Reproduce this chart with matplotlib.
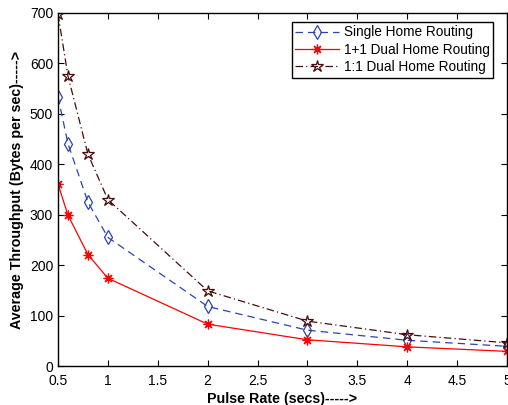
import matplotlib
matplotlib.use("Agg")
import matplotlib.pyplot as plt

plt.rcParams['font.family'] = ['Liberation Sans', 'DejaVu Sans']

pulse_rate = [0.5, 0.6, 0.8, 1, 2, 3, 4, 5]
single_home = [534, 441, 325, 255, 118, 71, 51, 39]
dual_1p1 = [361, 299, 221, 174, 83, 52, 38, 29]
dual_1c1 = [698, 575, 420, 330, 149, 89, 62, 46]

x_ticks = [0.5, 1, 1.5, 2, 2.5, 3, 3.5, 4, 4.5, 5]
x_tick_labels = ['0.5', '1', '1.5', '2', '2.5', '3', '3.5', '4', '4.5', '5']
y_ticks = [0, 100, 200, 300, 400, 500, 600, 700]

fig = plt.figure(figsize=(5.08, 4.05), dpi=100)
ax = fig.add_axes([58 / 508, 39 / 405, 449 / 508, 353 / 405])

ax.plot(pulse_rate, single_home, linestyle=(0, (6, 4)), color='#2a44b0', lw=0.9,
        marker='d', markersize=7.5, markerfacecolor='none', markeredgecolor='#2a44b0',
        markeredgewidth=0.9, label='Single Home Routing')
ax.plot(pulse_rate, dual_1p1, linestyle='-', color='red', lw=0.9,
        marker=(8, 2, 0), markersize=7, markerfacecolor='red', markeredgecolor='red',
        markeredgewidth=0.9, label='1+1 Dual Home Routing')
ax.plot(pulse_rate, dual_1c1, linestyle=(0, (6, 2.5, 1, 2.5)), color='#4a0a0a', lw=0.9,
        marker='*', markersize=9, markerfacecolor='none', markeredgecolor='#4a0a0a',
        markeredgewidth=0.9, label='1:1 Dual Home Routing')

ax.set_xlim(0.5, 5)
ax.set_ylim(0, 700)
ax.set_xticks(x_ticks)
ax.set_xticklabels(x_tick_labels)
ax.set_yticks(y_ticks)
ax.tick_params(direction='in', top=True, right=True, labelsize=10, length=4, width=0.8)
ax.tick_params(axis='x', pad=5.5)
ax.tick_params(axis='y', pad=3.5)
for s in ax.spines.values():
    s.set_linewidth(1.0)

ax.set_xlabel('Pulse Rate (secs)----->', fontsize=10.3, fontweight='bold', labelpad=3)
ax.set_ylabel('Average Throughput (Bytes per sec)----->', fontsize=10.3, fontweight='bold', labelpad=4)

leg = ax.legend(loc='upper right', bbox_to_anchor=(493 / 508, 1 - 22 / 405),
                bbox_transform=fig.transFigure, borderaxespad=0, fontsize=9.8,
                fancybox=False, framealpha=1, edgecolor='black', handlelength=3.2,
                handletextpad=0.35, labelspacing=0.25, borderpad=0.25)
leg.get_frame().set_linewidth(1.0)

fig.savefig('out.png', dpi=100)
